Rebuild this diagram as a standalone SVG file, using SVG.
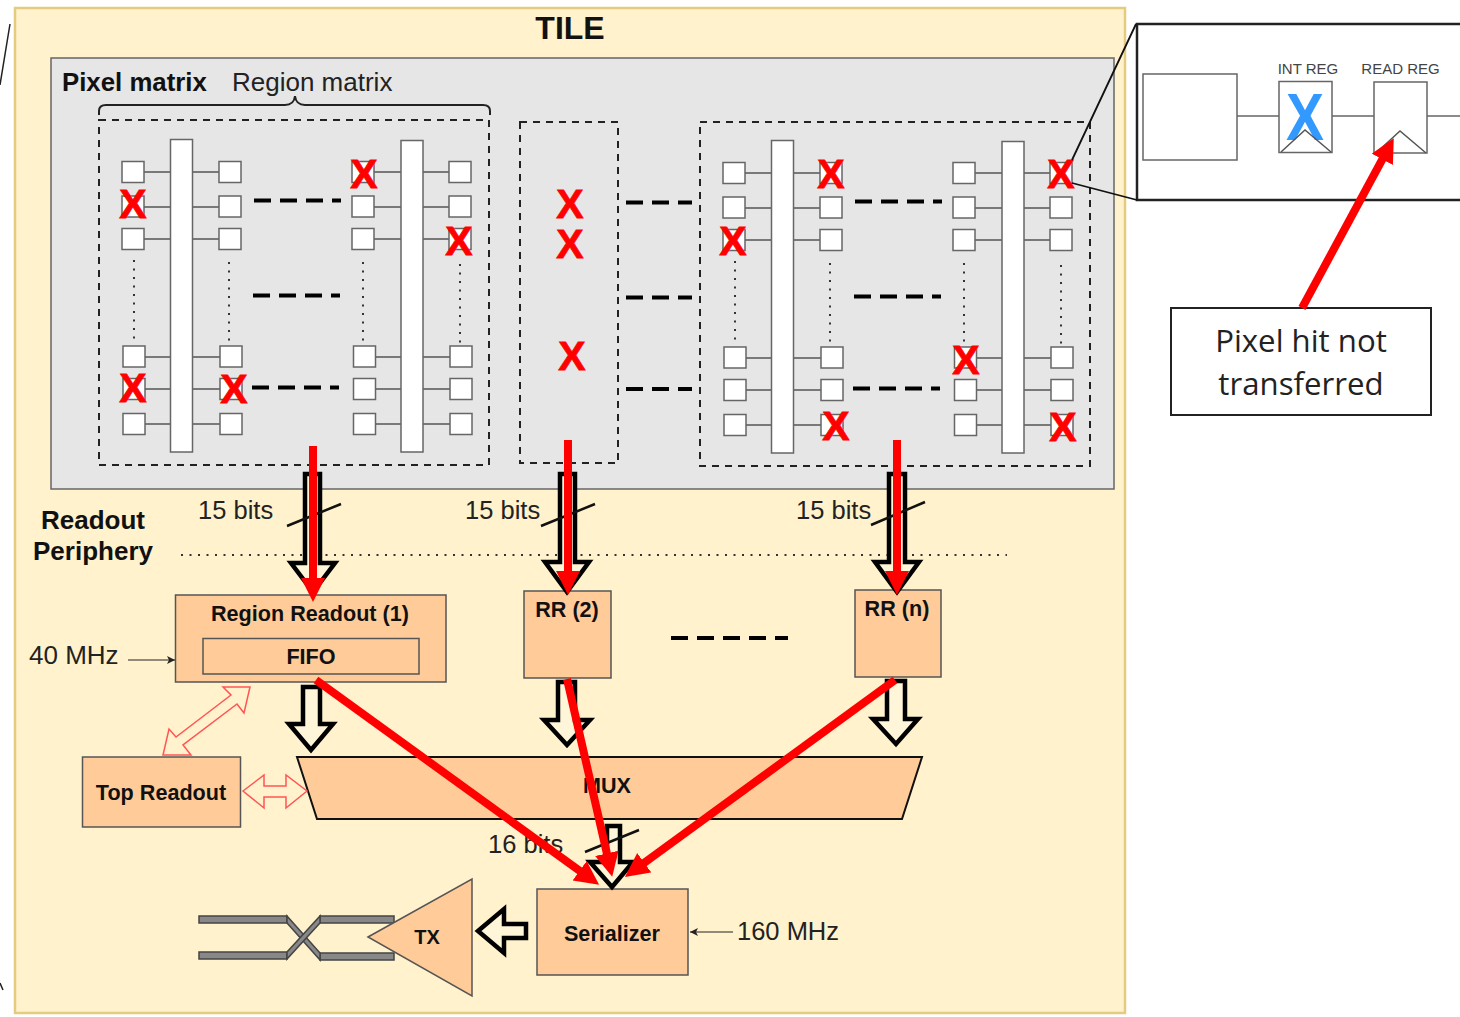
<svg xmlns="http://www.w3.org/2000/svg" width="1460" height="1017" viewBox="0 0 1460 1017">
<style>
text{font-family:"Liberation Sans",Arial,sans-serif;fill:#222}
.b{font-weight:700;fill:#111}
.m{text-anchor:middle}
.l{font-size:25.500px}
.lb{font-size:26px}
.h{font-size:21.600px}
.box{fill:#ffcc99;stroke:#555;stroke-width:1.500}
.sq{fill:#fff;stroke:#666;stroke-width:1.500}
.w{stroke:#555;stroke-width:1.500;fill:none}
.dot{stroke:#333;stroke-width:2;stroke-dasharray:2 6.500;fill:none}
.reg{fill:none;stroke:#222;stroke-width:2;stroke-dasharray:7 6}
.x{font-size:41px;font-weight:700;fill:#f00;stroke:#f00;stroke-width:.8;text-anchor:middle}
.ha{fill:#fff5d8;stroke:#000;stroke-width:4.500}
.ra{fill:none;stroke:#f00;stroke-width:8;marker-end:url(#rh)}
.oa{fill:#fff2cc;stroke:#f55;stroke-width:1.500}
.tw{fill:#888;stroke:#444;stroke-width:1.500}
.sl{stroke:#111;stroke-width:2.500;fill:none}
.da{stroke:#000;stroke-width:4;fill:none;stroke-dasharray:17 9}
.c{stroke:#222;stroke-width:1.200;fill:none;marker-end:url(#ka)}
</style>
<defs>
<marker id="rh" markerUnits="userSpaceOnUse" markerWidth="26" markerHeight="26" refX="14" refY="12" orient="auto"><path d="M0 0L24 12L0 24Z" fill="#f00"/></marker>
<marker id="ka" markerUnits="userSpaceOnUse" markerWidth="10" markerHeight="10" refX="8" refY="5" orient="auto"><path d="M0 1L8 5L0 9L2 5Z" fill="#222"/></marker>
<g id="cells">
<path class="w" d="M144 172H170M192 172H219M144 207H170M192 207H219M144 239H170M192 239H219M145 357H170M192 357H220M145 389H170M192 389H220M145 424H170M192 424H220M374 172H401M423 172H449M374 207H401M423 207H449M374 239H401M423 239H449M375 357H401M423 357H450M375 389H401M423 389H450M375 424H401M423 424H450"/>
<rect class="sq" x="170.500" y="139.500" width="22" height="312.500"/>
<rect class="sq" x="401" y="140.500" width="22" height="311.500"/>
<rect class="sq" x="122" y="161.500" width="22" height="21"/><rect class="sq" x="122" y="196" width="22" height="21"/><rect class="sq" x="122" y="228.500" width="22" height="21"/>
<rect class="sq" x="219" y="161.500" width="22" height="21"/><rect class="sq" x="219" y="196" width="22" height="21"/><rect class="sq" x="219" y="228.500" width="22" height="21"/>
<rect class="sq" x="352" y="161.500" width="22" height="21"/><rect class="sq" x="352" y="196" width="22" height="21"/><rect class="sq" x="352" y="228.500" width="22" height="21"/>
<rect class="sq" x="449" y="161.500" width="22" height="21"/><rect class="sq" x="449" y="196" width="22" height="21"/><rect class="sq" x="449" y="228.500" width="22" height="21"/>
<rect class="sq" x="123" y="346" width="22" height="21"/><rect class="sq" x="123" y="378.500" width="22" height="21"/><rect class="sq" x="123" y="413.500" width="22" height="21"/>
<rect class="sq" x="220" y="346" width="22" height="21"/><rect class="sq" x="220" y="378.500" width="22" height="21"/><rect class="sq" x="220" y="413.500" width="22" height="21"/>
<rect class="sq" x="353.500" y="346" width="22" height="21"/><rect class="sq" x="353.500" y="378.500" width="22" height="21"/><rect class="sq" x="353.500" y="413.500" width="22" height="21"/>
<rect class="sq" x="450" y="346" width="22" height="21"/><rect class="sq" x="450" y="378.500" width="22" height="21"/><rect class="sq" x="450" y="413.500" width="22" height="21"/>
<path class="dot" d="M134 260V340M229 262V342M363 262V342M460 264V344"/>
<path class="da" d="M254 200.500H341M253 295.500H340M252 387.500H339"/>
</g>
</defs>
<rect width="1460" height="1017" fill="#fff"/>
<path d="M10 24L0 85M0 983L3 990" stroke="#222" stroke-width="1.500" fill="none"/>
<g id="tile">
<rect x="15" y="8" width="1110" height="1005" fill="#fff2cc" stroke="#e3cc80" stroke-width="2.500"/>
<text class="b m" x="570" y="39" font-size="32">TILE</text>
</g>
<g id="pixel-matrix">
<rect x="51" y="58" width="1063" height="431" fill="#e6e6e6" stroke="#666" stroke-width="1.500"/>
<text class="b" x="62" y="91" font-size="25.800">Pixel matrix</text>
<text x="232" y="91" font-size="26">Region matrix</text>
<path d="M99 115V111Q99 105 106 105H285Q294 105 295 96Q296 105 305 105H483Q490 105 490 111V115" fill="none" stroke="#222" stroke-width="2"/>
</g>
<g id="region-1">
<rect class="reg" x="99" y="120" width="390" height="345"/>
<use href="#cells"/>
<text class="x" x="133" y="218">X</text><text class="x" x="364" y="188">X</text><text class="x" x="459" y="255">X</text><text class="x" x="133" y="402">X</text><text class="x" x="234" y="403">X</text>
</g>
<g id="region-2">
<rect class="reg" x="520" y="122" width="98" height="341"/>
<text class="x" x="570" y="218">X</text><text class="x" x="570" y="258">X</text><text class="x" x="572" y="370">X</text>
<path class="da" d="M626 202.500H692M626 297.500H692M626 389H692"/>
</g>
<g id="region-3">
<rect class="reg" x="700" y="122" width="390" height="344"/>
<use href="#cells" x="601" y="1"/>
<text class="x" x="733" y="255">X</text><text class="x" x="831" y="188">X</text><text class="x" x="1061" y="188">X</text><text class="x" x="966" y="374">X</text><text class="x" x="836" y="440">X</text><text class="x" x="1063" y="441">X</text>
</g>
<g id="inset">
<rect x="1137" y="24" width="340" height="176" fill="#fff" stroke="#222" stroke-width="2.500"/>
<rect x="1143" y="74" width="94" height="86" fill="#fff" stroke="#666" stroke-width="1.500"/>
<path d="M1237 116H1279M1332 116H1374M1427 116H1460" stroke="#666" stroke-width="1.500" fill="none"/>
<text x="1308" y="74" font-size="15" class="m" style="fill:#444">INT REG</text>
<text x="1400.500" y="74" font-size="15" class="m" style="fill:#444">READ REG</text>
<rect x="1279" y="81.500" width="53" height="71" fill="#fff" stroke="#666" stroke-width="1.500"/>
<text transform="translate(1305 140) scale(.85 1)" font-size="67" font-weight="700" class="m" style="fill:#39f">X</text>
<path d="M1281 152L1305 130L1331 152" fill="none" stroke="#555" stroke-width="1.500"/>
<rect x="1374" y="82" width="53" height="71" fill="#fff" stroke="#666" stroke-width="1.500"/>
<path d="M1376 153L1400 131L1426 153" fill="none" stroke="#555" stroke-width="1.500"/>
</g>
<g id="callout">
<rect x="1171" y="308" width="260" height="107" fill="#fff" stroke="#222" stroke-width="2"/>
<text x="1301" y="352" font-size="31.200" class="m" style="font-family:'Open Sans',sans-serif">Pixel hit not</text>
<text x="1301" y="395" font-size="31.200" class="m" style="font-family:'Open Sans',sans-serif">transferred</text>
</g>
<g id="periphery-labels">
<text class="b m lb" x="93" y="529">Readout</text>
<text class="b m lb" x="93" y="560">Periphery</text>
<path d="M181 555H1007" class="dot"/>
<text class="l" x="198" y="519">15 bits</text>
<text class="l" x="465" y="519">15 bits</text>
<text class="l" x="796" y="519">15 bits</text>
<text class="lb" x="29" y="664">40 MHz</text>
<text class="l" x="488" y="853">16 bits</text>
<text class="l" x="737" y="940">160 MHz</text>
</g>
<g id="region-readout-1">
<rect class="box" x="175.500" y="595" width="270.500" height="87"/>
<text class="b m h" x="310" y="621">Region Readout (1)</text>
<rect class="box" x="203" y="638.500" width="216" height="35.500"/>
<text class="b m h" x="311" y="664">FIFO</text>
</g>
<g id="rr-2"><rect class="box" x="524" y="591" width="87" height="87"/><text class="b m h" x="567" y="617">RR (2)</text></g>
<g id="rr-n"><rect class="box" x="855" y="590" width="86" height="87"/><text class="b m h" x="897" y="616">RR (n)</text></g>
<g id="top-readout"><rect class="box" x="82.500" y="757" width="158" height="70"/><text class="b m h" x="161" y="800">Top Readout</text></g>
<g id="mux"><path d="M297 757H922L902 819H317Z" fill="#ffcc99" stroke="#111" stroke-width="2"/><text class="b m h" x="607" y="793">MUX</text></g>
<g id="serializer"><rect class="box" x="537" y="889" width="151" height="86"/><text class="b m h" x="612" y="941">Serializer</text></g>
<g id="twisted-pair">
<rect class="tw" x="199" y="916" width="88" height="7"/><rect class="tw" x="199" y="952" width="88" height="7"/>
<rect class="tw" x="320" y="916" width="74" height="7"/><rect class="tw" x="320" y="953" width="74" height="7"/>
<path class="tw" d="M287 916L320 953V960L287 923Z"/><path class="tw" d="M287 952L320 916V923L287 959Z"/>
</g>
<g id="tx"><path d="M368 937L472 879V996Z" fill="#ffcc99" stroke="#555" stroke-width="1.500"/><text class="b m" x="427" y="944" font-size="20">TX</text></g>
<g id="connectors">
<path d="M128 660H175" class="c"/>
<path d="M733 932H690" class="c"/>
<path d="M671 638H788" class="da"/>
<path class="oa" d="M250 687H223L231 695L176 737L169 729L163 755H191L183 745L237 704L244 713Z"/>
<path class="oa" d="M243 791L264 775V786H286V775L307 791L286 808V797H264V808Z"/>
<path d="M1136 24L1072 160M1072 183L1137 200" stroke="#111" stroke-width="1.800" fill="none"/>
<path class="ha" d="M305 474H320V563H335L313 592L291 563H305Z"/>
<path class="ha" d="M560 474H575V562H589L567 592L545 562H560Z"/>
<path class="ha" d="M889 474H905V562H919L897 592L875 562H889Z"/>
<path class="ha" d="M303 687H320V724H333L311 750L289 724H303Z"/>
<path class="ha" d="M558 682H575V720H590L567 745L544 720H558Z"/>
<path class="ha" d="M887 681H905V719H918L896 744L873 719H887Z"/>
<path class="ha" d="M607 826H620V862H633L612 887L590 862H607Z"/>
<path class="ha" d="M478 931L504 909V924H526V938H504V953Z"/>
<path class="sl" d="M287 526L341 504M541 526L595 504M871 525L925 502M585 852L639 830"/>
<path class="ra" d="M313 446V592"/>
<path class="ra" d="M568 440V585"/>
<path class="ra" d="M897 440V585"/>
<path class="ra" d="M316 680L591 879"/>
<path class="ra" d="M567 679L610 867"/>
<path class="ra" d="M895 680L633 871"/>
<path class="ra" d="M1302 308L1389 147"/>
</g>
</svg>
